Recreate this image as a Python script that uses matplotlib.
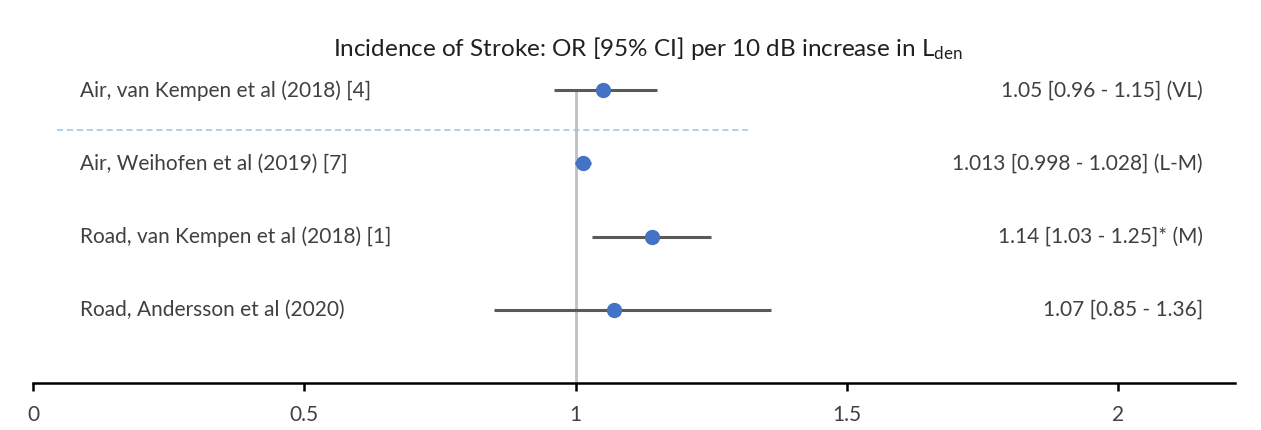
import matplotlib
matplotlib.use("Agg")
import matplotlib.pyplot as plt

plt.rcParams['font.family'] = ['Lato', 'DejaVu Sans']
plt.rcParams['mathtext.fontset'] = 'custom'
plt.rcParams['mathtext.rm'] = 'Lato'
plt.rcParams['mathtext.it'] = 'Lato:italic'

# odds ratios per 10 dB Lden, top row first
studies = [
    "Air, van Kempen et al (2018) [4]",
    "Air, Weihofen et al (2019) [7]",
    "Road, van Kempen et al (2018) [1]",
    "Road, Andersson et al (2020)",
]
odds = [1.05, 1.013, 1.14, 1.07]
ci_low = [0.96, 0.998, 1.03, 0.85]
ci_high = [1.15, 1.028, 1.25, 1.36]
value_text = [
    "1.05 [0.96 - 1.15] (VL)",
    "1.013 [0.998 - 1.028] (L-M)",
    "1.14 [1.03 - 1.25]* (M)",
    "1.07 [0.85 - 1.36]",
]
xticks = [0, 0.5, 1, 1.5, 2]

W, H = 1261, 430
fig = plt.figure(figsize=(W / 100, H / 100), dpi=100)
ax = fig.add_axes([33 / W, (H - 383) / H, (1235 - 33) / W, (383 - 80) / H])

rows = list(range(len(studies), 0, -1))
text_col = "#404040"

# reference line at OR = 1, from the top row down to the axis
ax.plot([1, 1], [0, rows[0]], color="#bfbfbf", lw=2, zorder=1)

for y, m, lo, hi in zip(rows, odds, ci_low, ci_high):
    ax.plot([lo, hi], [y, y], color="#595959", lw=2.2, zorder=2, solid_capstyle="butt")
    ax.plot(m, y, "o", color="#4472c4", ms=10, zorder=3)

# separator between the first study and the rest
ax.plot([0.044, 1.317], [3.45, 3.45], color="#9dc3e6", lw=1.1, ls=(0, (4, 2.5)), zorder=1)

for y, name, txt in zip(rows, studies, value_text):
    ax.text(0.087, y, name, ha="left", va="center", fontsize=15, color=text_col)
    ax.text(2.156, y, txt, ha="right", va="center", fontsize=15, color=text_col)

ax.set_xlim(0, 2.215)
ax.set_ylim(0, 4.14)
ax.set_xticks(xticks)
ax.set_xticklabels([f"{t:g}" for t in xticks])
ax.set_yticks([])
for s in ["top", "right", "left"]:
    ax.spines[s].set_visible(False)
ax.spines["bottom"].set_linewidth(1.8)
ax.tick_params(axis="x", direction="out", length=6, width=1.8, labelsize=15,
               labelcolor=text_col, pad=10)

fig.text(648 / W, (H - 48) / H,
         "Incidence of Stroke: OR [95% CI] per 10 dB increase in L$_{\\mathrm{den}}$",
         ha="center", va="center", fontsize=17.5, color="#202020")

fig.savefig("out.png", dpi=100)
